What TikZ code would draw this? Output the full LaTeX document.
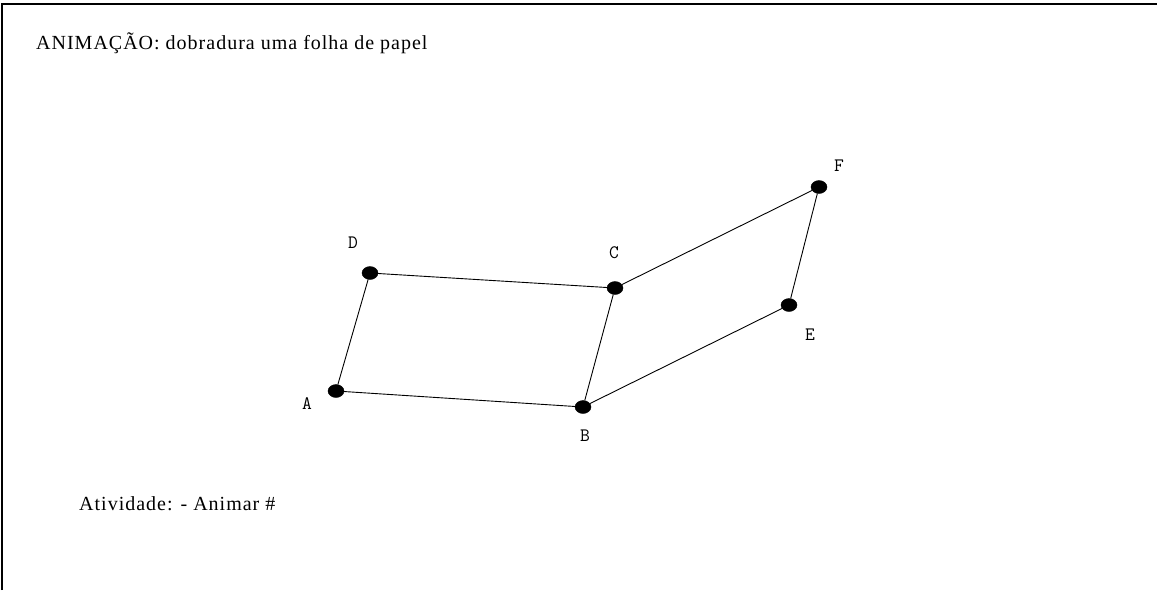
\documentclass[tikz,border=0pt]{standalone}
\usepackage{fontspec}
\setmainfont[LetterSpace=5]{Liberation Serif}
\usetikzlibrary{shapes.geometric}
\tikzset{
  pt/.style={draw=black,fill=black,ellipse,minimum width=16pt,minimum height=13pt,inner sep=0pt},
  lbl/.style={font=\ttfamily\fontsize{19}{21}\selectfont,inner sep=0pt},
  edge/.style={draw=black,line width=0.9pt},
  txt/.style={font=\fontsize{20}{24}\selectfont,inner sep=0pt,anchor=west}
}
\begin{document}
\begin{tikzpicture}[x=1pt,y=-1pt]
\useasboundingbox (0,0) rectangle (1157,590);
\draw[line width=1.5pt] (2,590) -- (2,4) -- (1157,4);
\node[txt] (title) at (36,43) {ANIMAÇÃO: dobradura uma folha de papel};
\node[txt] (act) at (79,504) {Atividade: - Animar \#};
\node[pt] (A) at (336,391) {};
\node[pt] (B) at (583,407) {};
\node[pt] (C) at (615,288) {};
\node[pt] (D) at (370,273) {};
\node[pt] (E) at (789,305) {};
\node[pt] (F) at (819,187) {};
\node[lbl] (lA) at (307,404) {A};
\node[lbl] (lB) at (585,436) {B};
\node[lbl] (lC) at (614,253) {C};
\node[lbl] (lD) at (353,243) {D};
\node[lbl] (lE) at (810,335) {E};
\node[lbl] (lF) at (839,166) {F};
\draw[edge] (A) -- (B) -- (C) -- (D) -- (A);
\draw[edge] (B) -- (E) -- (F) -- (C);
\end{tikzpicture}
\end{document}
